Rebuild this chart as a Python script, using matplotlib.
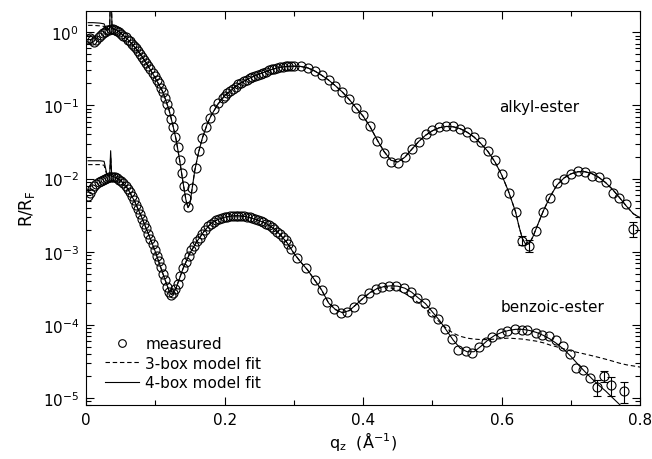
import matplotlib
matplotlib.use("Agg")
import matplotlib.pyplot as plt
from matplotlib.lines import Line2D
from matplotlib.ticker import MultipleLocator, FuncFormatter, LogLocator
import numpy as np

plt.rcParams['font.family'] = ['DejaVu Sans']
plt.rcParams['mathtext.default'] = 'regular'

# ---- alkyl-ester: measured R/RF ----
alkyl_q = [0.003, 0.006, 0.009, 0.012, 0.015, 0.018, 0.021, 0.024, 0.027, 0.030,
           0.033, 0.036, 0.039, 0.042, 0.045, 0.048, 0.051, 0.054, 0.057, 0.060,
           0.063, 0.066, 0.069, 0.072, 0.075, 0.078, 0.081, 0.084, 0.087, 0.090,
           0.093, 0.096, 0.099, 0.102, 0.105, 0.108, 0.111, 0.114, 0.117, 0.120,
           0.123, 0.126, 0.129, 0.132, 0.135, 0.138, 0.141, 0.144, 0.147,
           0.153, 0.158, 0.163, 0.168, 0.173, 0.179, 0.185, 0.191, 0.197,
           0.200, 0.204, 0.208, 0.212, 0.216, 0.220, 0.224, 0.228, 0.232, 0.236,
           0.240, 0.244, 0.248, 0.252, 0.256, 0.260, 0.264, 0.268, 0.272, 0.276,
           0.280, 0.284, 0.288, 0.292, 0.296, 0.300,
           0.31, 0.32, 0.33,
           0.34, 0.35, 0.36, 0.37, 0.38, 0.39, 0.40, 0.41, 0.42, 0.43,
           0.44, 0.45, 0.46, 0.47, 0.48, 0.49, 0.50, 0.51, 0.52, 0.53,
           0.54, 0.55, 0.56, 0.57, 0.58, 0.59, 0.60, 0.61, 0.62, 0.63,
           0.64, 0.65, 0.66, 0.67, 0.68, 0.69, 0.70, 0.71, 0.72, 0.73,
           0.74, 0.75, 0.76, 0.77, 0.78, 0.79]
alkyl_R = [0.80, 0.82, 0.78, 0.74, 0.78, 0.86, 0.92, 0.97, 1.02, 1.06,
           1.08, 1.10, 1.10, 1.08, 1.05, 1.00, 0.95, 0.90, 0.85, 0.79,
           0.75, 0.70, 0.65, 0.60, 0.55, 0.50, 0.46, 0.42, 0.38, 0.34,
           0.31, 0.28, 0.25, 0.225, 0.20, 0.175, 0.15, 0.127, 0.105, 0.085,
           0.066, 0.050, 0.037, 0.027, 0.018, 0.012, 0.0078, 0.0055, 0.0041,
           0.0075, 0.014, 0.024, 0.036, 0.050, 0.068, 0.088, 0.107, 0.125,
           0.135, 0.147, 0.158, 0.168, 0.180, 0.193, 0.205, 0.215, 0.225, 0.235,
           0.245, 0.254, 0.263, 0.272, 0.281, 0.290, 0.300, 0.310, 0.318, 0.325,
           0.332, 0.337, 0.340, 0.342, 0.343, 0.343,
           0.340, 0.325, 0.295,
           0.258, 0.225, 0.185, 0.152, 0.122, 0.092, 0.073, 0.053, 0.033, 0.0225,
           0.017, 0.0165, 0.0198, 0.0255, 0.0315, 0.040, 0.0455, 0.050, 0.0515, 0.0515,
           0.048, 0.043, 0.0365, 0.0315, 0.0240, 0.0177, 0.0114, 0.0064, 0.0035, 0.00142,
           0.00121, 0.00194, 0.00353, 0.0055, 0.0088, 0.0100, 0.0114, 0.0125, 0.0121, 0.0110,
           0.0106, 0.0091, 0.0064, 0.0055, 0.00455, 0.00207]

alkyl_err_q = [0.63, 0.64, 0.79]
alkyl_err_R = [0.00142, 0.00121, 0.00207]
alkyl_err = [0.0002, 0.00022, 0.0005]

# ---- alkyl-ester: model fits ----
alkyl_fit_q = [0.003, 0.010, 0.020, 0.026, 0.030, 0.034, 0.0358, 0.0375, 0.040, 0.045,
               0.05, 0.06, 0.07, 0.08, 0.09, 0.10, 0.11, 0.115, 0.12, 0.125,
               0.13, 0.135, 0.14, 0.144, 0.147, 0.150, 0.153, 0.157, 0.162, 0.168,
               0.175, 0.18, 0.19,
               0.20, 0.21, 0.22, 0.23, 0.24, 0.25, 0.26, 0.27, 0.28, 0.29,
               0.30, 0.31, 0.32, 0.33, 0.34, 0.35, 0.36, 0.37, 0.38, 0.39,
               0.40, 0.41, 0.42, 0.43, 0.44, 0.45, 0.46, 0.47, 0.48, 0.49,
               0.50, 0.51, 0.52, 0.53, 0.54, 0.55, 0.56, 0.57, 0.58, 0.59,
               0.60, 0.61, 0.62,
               0.625, 0.63, 0.635, 0.64, 0.645, 0.65,
               0.66, 0.67, 0.68, 0.69, 0.70, 0.71, 0.72, 0.73, 0.74, 0.75,
               0.76, 0.77, 0.78, 0.79, 0.80]
alkyl_fit4_R = [1.35, 1.35, 1.33, 1.30, 1.06, 1.12, 5.0, 1.12, 1.10, 1.06,
                0.97, 0.80, 0.63, 0.48, 0.34, 0.235, 0.158, 0.118, 0.085, 0.055,
                0.034, 0.018, 0.0088, 0.0052, 0.0040, 0.0045, 0.0072, 0.013, 0.022, 0.036,
                0.056, 0.071, 0.103,
                0.135, 0.163, 0.193, 0.220, 0.245, 0.268, 0.290, 0.314, 0.332, 0.341,
                0.343, 0.340, 0.325, 0.295, 0.258, 0.222, 0.185, 0.152, 0.120, 0.092,
                0.071, 0.051, 0.034, 0.0235, 0.0178, 0.0168, 0.0195, 0.025, 0.032, 0.039,
                0.045, 0.0495, 0.0515, 0.051, 0.048, 0.043, 0.037, 0.030, 0.0235, 0.017,
                0.0112, 0.0066, 0.0035,
                0.0022, 0.0015, 0.00125, 0.0013, 0.0016, 0.0021,
                0.0036, 0.0057, 0.0082, 0.0102, 0.0116, 0.0124, 0.0124, 0.0117, 0.0104, 0.0088,
                0.0071, 0.0055, 0.0042, 0.0033, 0.0029]
alkyl_fit3_R = [1.24, 1.24, 1.22, 1.20] + alkyl_fit4_R[4:]

# ---- benzoic-ester: measured R/RF ----
benz_q = [0.003, 0.006, 0.009, 0.012, 0.015, 0.018, 0.021, 0.024, 0.027, 0.030,
          0.033, 0.036, 0.039, 0.042, 0.045, 0.048, 0.051, 0.054, 0.057, 0.060,
          0.063, 0.066, 0.069, 0.072, 0.075, 0.078, 0.081, 0.084, 0.087, 0.090,
          0.093, 0.096, 0.099, 0.102, 0.105, 0.108, 0.111, 0.114, 0.117, 0.120,
          0.123, 0.126, 0.129,
          0.132, 0.136, 0.140, 0.144, 0.148, 0.152, 0.156, 0.160, 0.164, 0.168,
          0.172, 0.176, 0.180, 0.184, 0.188, 0.192, 0.196, 0.200, 0.204, 0.208,
          0.212, 0.216, 0.220, 0.224, 0.228, 0.232, 0.236, 0.240, 0.244, 0.248,
          0.252, 0.256, 0.260, 0.264, 0.268, 0.272, 0.276, 0.280, 0.284, 0.288,
          0.292, 0.296,
          0.305, 0.318, 0.330, 0.340, 0.348, 0.358, 0.368, 0.377, 0.387, 0.399,
          0.409, 0.419, 0.427, 0.437, 0.448, 0.459, 0.469, 0.478, 0.489, 0.499,
          0.508, 0.518, 0.528, 0.537, 0.548, 0.557, 0.567, 0.577, 0.586, 0.599,
          0.607, 0.619, 0.629, 0.637, 0.649, 0.658, 0.668, 0.678, 0.688, 0.698,
          0.707, 0.717, 0.727, 0.737, 0.747, 0.758, 0.777]
benz_R = [0.0057, 0.0063, 0.0071, 0.0078, 0.0084, 0.0089, 0.0093, 0.0097, 0.0100, 0.0103,
          0.0105, 0.0106, 0.0106, 0.0104, 0.0101, 0.0097, 0.0092, 0.0087, 0.0080, 0.0073,
          0.0065, 0.0058, 0.0051, 0.0044, 0.0038, 0.0033, 0.0028, 0.0024, 0.0021, 0.00175,
          0.00150, 0.00127, 0.00106, 0.00088, 0.00074, 0.00061, 0.00050, 0.00041, 0.00033, 0.00028,
          0.00026, 0.00027, 0.00031,
          0.00036, 0.00047, 0.00059, 0.00072, 0.00088, 0.00104, 0.00120, 0.00138, 0.00156, 0.00176,
          0.00200, 0.00223, 0.00243, 0.00258, 0.00270, 0.00280, 0.00289, 0.00296, 0.00302, 0.00306,
          0.00309, 0.00310, 0.00310, 0.00308, 0.00305, 0.00300, 0.00294, 0.00286, 0.00278, 0.00270,
          0.00261, 0.00252, 0.00242, 0.00230, 0.00217, 0.00203, 0.00188, 0.00172, 0.00158, 0.00145,
          0.00128, 0.00108,
          0.00083, 0.00060, 0.00041, 0.00030, 0.000207, 0.000166, 0.000146, 0.000151, 0.000177, 0.000227,
          0.000274, 0.000311, 0.000332, 0.000342, 0.000342, 0.000321, 0.000283, 0.000234, 0.000200, 0.000151,
          0.000121, 0.000088, 0.000064, 0.0000455, 0.000044, 0.0000413, 0.000050, 0.0000585, 0.0000685, 0.0000777,
          0.0000828, 0.000088, 0.0000855, 0.0000855, 0.0000777, 0.000073, 0.0000707, 0.0000623, 0.0000515, 0.000040,
          0.0000258, 0.000024, 0.000019, 0.0000142, 0.000020, 0.0000151, 0.0000125]

benz_err_q = [0.737, 0.747, 0.758, 0.777]
benz_err_R = [1.42e-5, 2.0e-5, 1.51e-5, 1.25e-5]
benz_err = [3.5e-6, 3.5e-6, 4.5e-6, 4.0e-6]

# ---- benzoic-ester: model fits ----
benz_fit_q = [0.003, 0.010, 0.020, 0.026, 0.030, 0.034, 0.0355, 0.037, 0.040, 0.045,
              0.05, 0.06, 0.07, 0.08, 0.09, 0.10, 0.11, 0.115, 0.12, 0.123,
              0.126, 0.13,
              0.14, 0.15, 0.16, 0.17, 0.18, 0.19, 0.20, 0.21, 0.22, 0.23,
              0.24, 0.25, 0.26, 0.27, 0.28, 0.29, 0.30, 0.31, 0.32, 0.33,
              0.34, 0.35, 0.36, 0.37, 0.38, 0.39, 0.40, 0.41, 0.42, 0.43,
              0.44, 0.45, 0.46, 0.47, 0.48, 0.49, 0.50, 0.51, 0.52, 0.53,
              0.54, 0.55, 0.56, 0.57, 0.58, 0.59, 0.60, 0.61, 0.62, 0.63,
              0.64, 0.65, 0.66, 0.67, 0.68, 0.69, 0.70, 0.71, 0.72, 0.73,
              0.74, 0.75, 0.76, 0.77, 0.78, 0.79, 0.80]
benz_fit4_R = [0.0175, 0.0175, 0.0175, 0.0172, 0.0115, 0.0108, 0.024, 0.0108, 0.0106, 0.0101,
               0.0094, 0.0073, 0.0049, 0.0030, 0.00175, 0.00100, 0.00053, 0.00039, 0.00029, 0.00026,
               0.00027, 0.00032,
               0.00059, 0.00096, 0.00138, 0.00188, 0.00243, 0.00275, 0.00296, 0.00308, 0.00310, 0.00303,
               0.00286, 0.00266, 0.00242, 0.00210, 0.00172, 0.00133, 0.00095, 0.00072, 0.00056, 0.00041,
               0.00030, 0.000200, 0.000162, 0.000147, 0.000157, 0.000190, 0.000232, 0.000277, 0.000313, 0.000334,
               0.000342, 0.000338, 0.000318, 0.000280, 0.000232, 0.000195, 0.000150, 0.000116, 0.000085, 0.000062,
               0.000048, 0.000043, 0.000043, 0.000051, 0.000062, 0.000072, 0.000079, 0.000084, 0.000087, 0.000087,
               0.000084, 0.000079, 0.000072, 0.000064, 0.000055, 0.000046, 0.000037, 0.000029, 0.000023, 0.0000185,
               0.000015, 0.0000125, 0.0000101, 0.0000082, 0.0000068, 0.0000056, 0.0000046]
benz_fit3_R = ([0.0155, 0.0155, 0.0155, 0.0152, 0.0112, 0.0108, 0.020, 0.0108, 0.0106]
               + benz_fit4_R[9:52]
               + [0.00032, 0.00030, 0.00027, 0.000235, 0.000200, 0.000165, 0.000135, 0.000110, 0.000090, 0.000077,
                  0.000070, 0.000066, 0.000064, 0.000063, 0.000063, 0.000064, 0.000065, 0.000066, 0.000065, 0.000064,
                  0.000062, 0.000060, 0.000057, 0.000053, 0.000050, 0.000047, 0.000044, 0.000042, 0.000040, 0.000038,
                  0.000036, 0.000034, 0.000032, 0.000030, 0.0000285, 0.0000275, 0.0000265])

x_ticks = [0, 0.2, 0.4, 0.6, 0.8]

fig = plt.figure(figsize=(6.52, 4.6), dpi=100)
ax = fig.add_axes([0.132, 0.117, 0.850, 0.857])

lw = 0.8
dash = (4, 2.5)
mk = dict(marker='o', ls='none', mfc='none', mec='k', ms=6.5, mew=0.8)

for fq, f3, f4 in [(alkyl_fit_q, alkyl_fit3_R, alkyl_fit4_R),
                   (benz_fit_q, benz_fit3_R, benz_fit4_R)]:
    ax.plot(fq, f3, color='k', lw=lw, dashes=dash)
    ax.plot(fq, f4, color='k', lw=lw)

ax.plot(alkyl_q, alkyl_R, **mk)
ax.plot(benz_q, benz_R, **mk)
ax.errorbar(alkyl_err_q, alkyl_err_R, yerr=alkyl_err, fmt='none', ecolor='k',
            elinewidth=lw, capsize=3, capthick=lw)
ax.errorbar(benz_err_q, benz_err_R, yerr=benz_err, fmt='none', ecolor='k',
            elinewidth=lw, capsize=3, capthick=lw)

ax.set_yscale('log')
ax.set_xlim(0, 0.8)
ax.set_ylim(8e-6, 1.95)

ax.xaxis.set_major_locator(plt.FixedLocator(x_ticks))
ax.xaxis.set_minor_locator(MultipleLocator(0.1))
ax.xaxis.set_major_formatter(FuncFormatter(lambda v, p: '%g' % v))
ax.yaxis.set_major_locator(LogLocator(base=10, numticks=10))
ax.yaxis.set_minor_locator(LogLocator(base=10, subs=np.arange(2, 10), numticks=20))

ax.tick_params(which='both', direction='in', top=True, right=True, width=lw,
               labelsize=11, colors='k')
ax.tick_params(which='major', length=6, pad=5)
ax.tick_params(which='minor', length=3.5)
for s in ax.spines.values():
    s.set_linewidth(lw)

ax.set_xlabel('q$_z$  (Å$^{-1}$)', fontsize=11.5, labelpad=1)
ax.set_ylabel('R/R$_F$', fontsize=12, labelpad=4)

ax.text(0.596, 0.097, 'alkyl-ester', fontsize=11, va='center', ha='left')
ax.text(0.599, 1.77e-4, 'benzoic-ester', fontsize=11, va='center', ha='left')

handles = [Line2D([], [], **{**mk, 'ms': 5.5}),
           Line2D([], [], color='k', lw=lw, dashes=dash),
           Line2D([], [], color='k', lw=lw)]
labels = ['measured', '3-box model fit', '4-box model fit']
ax.legend(handles, labels, loc='lower left', bbox_to_anchor=(0.035, 0.038),
          frameon=False, fontsize=11, handlelength=2.2, handletextpad=0.4,
          labelspacing=0.3, borderpad=0, borderaxespad=0)

fig.savefig('out.png', dpi=100, facecolor='white')
